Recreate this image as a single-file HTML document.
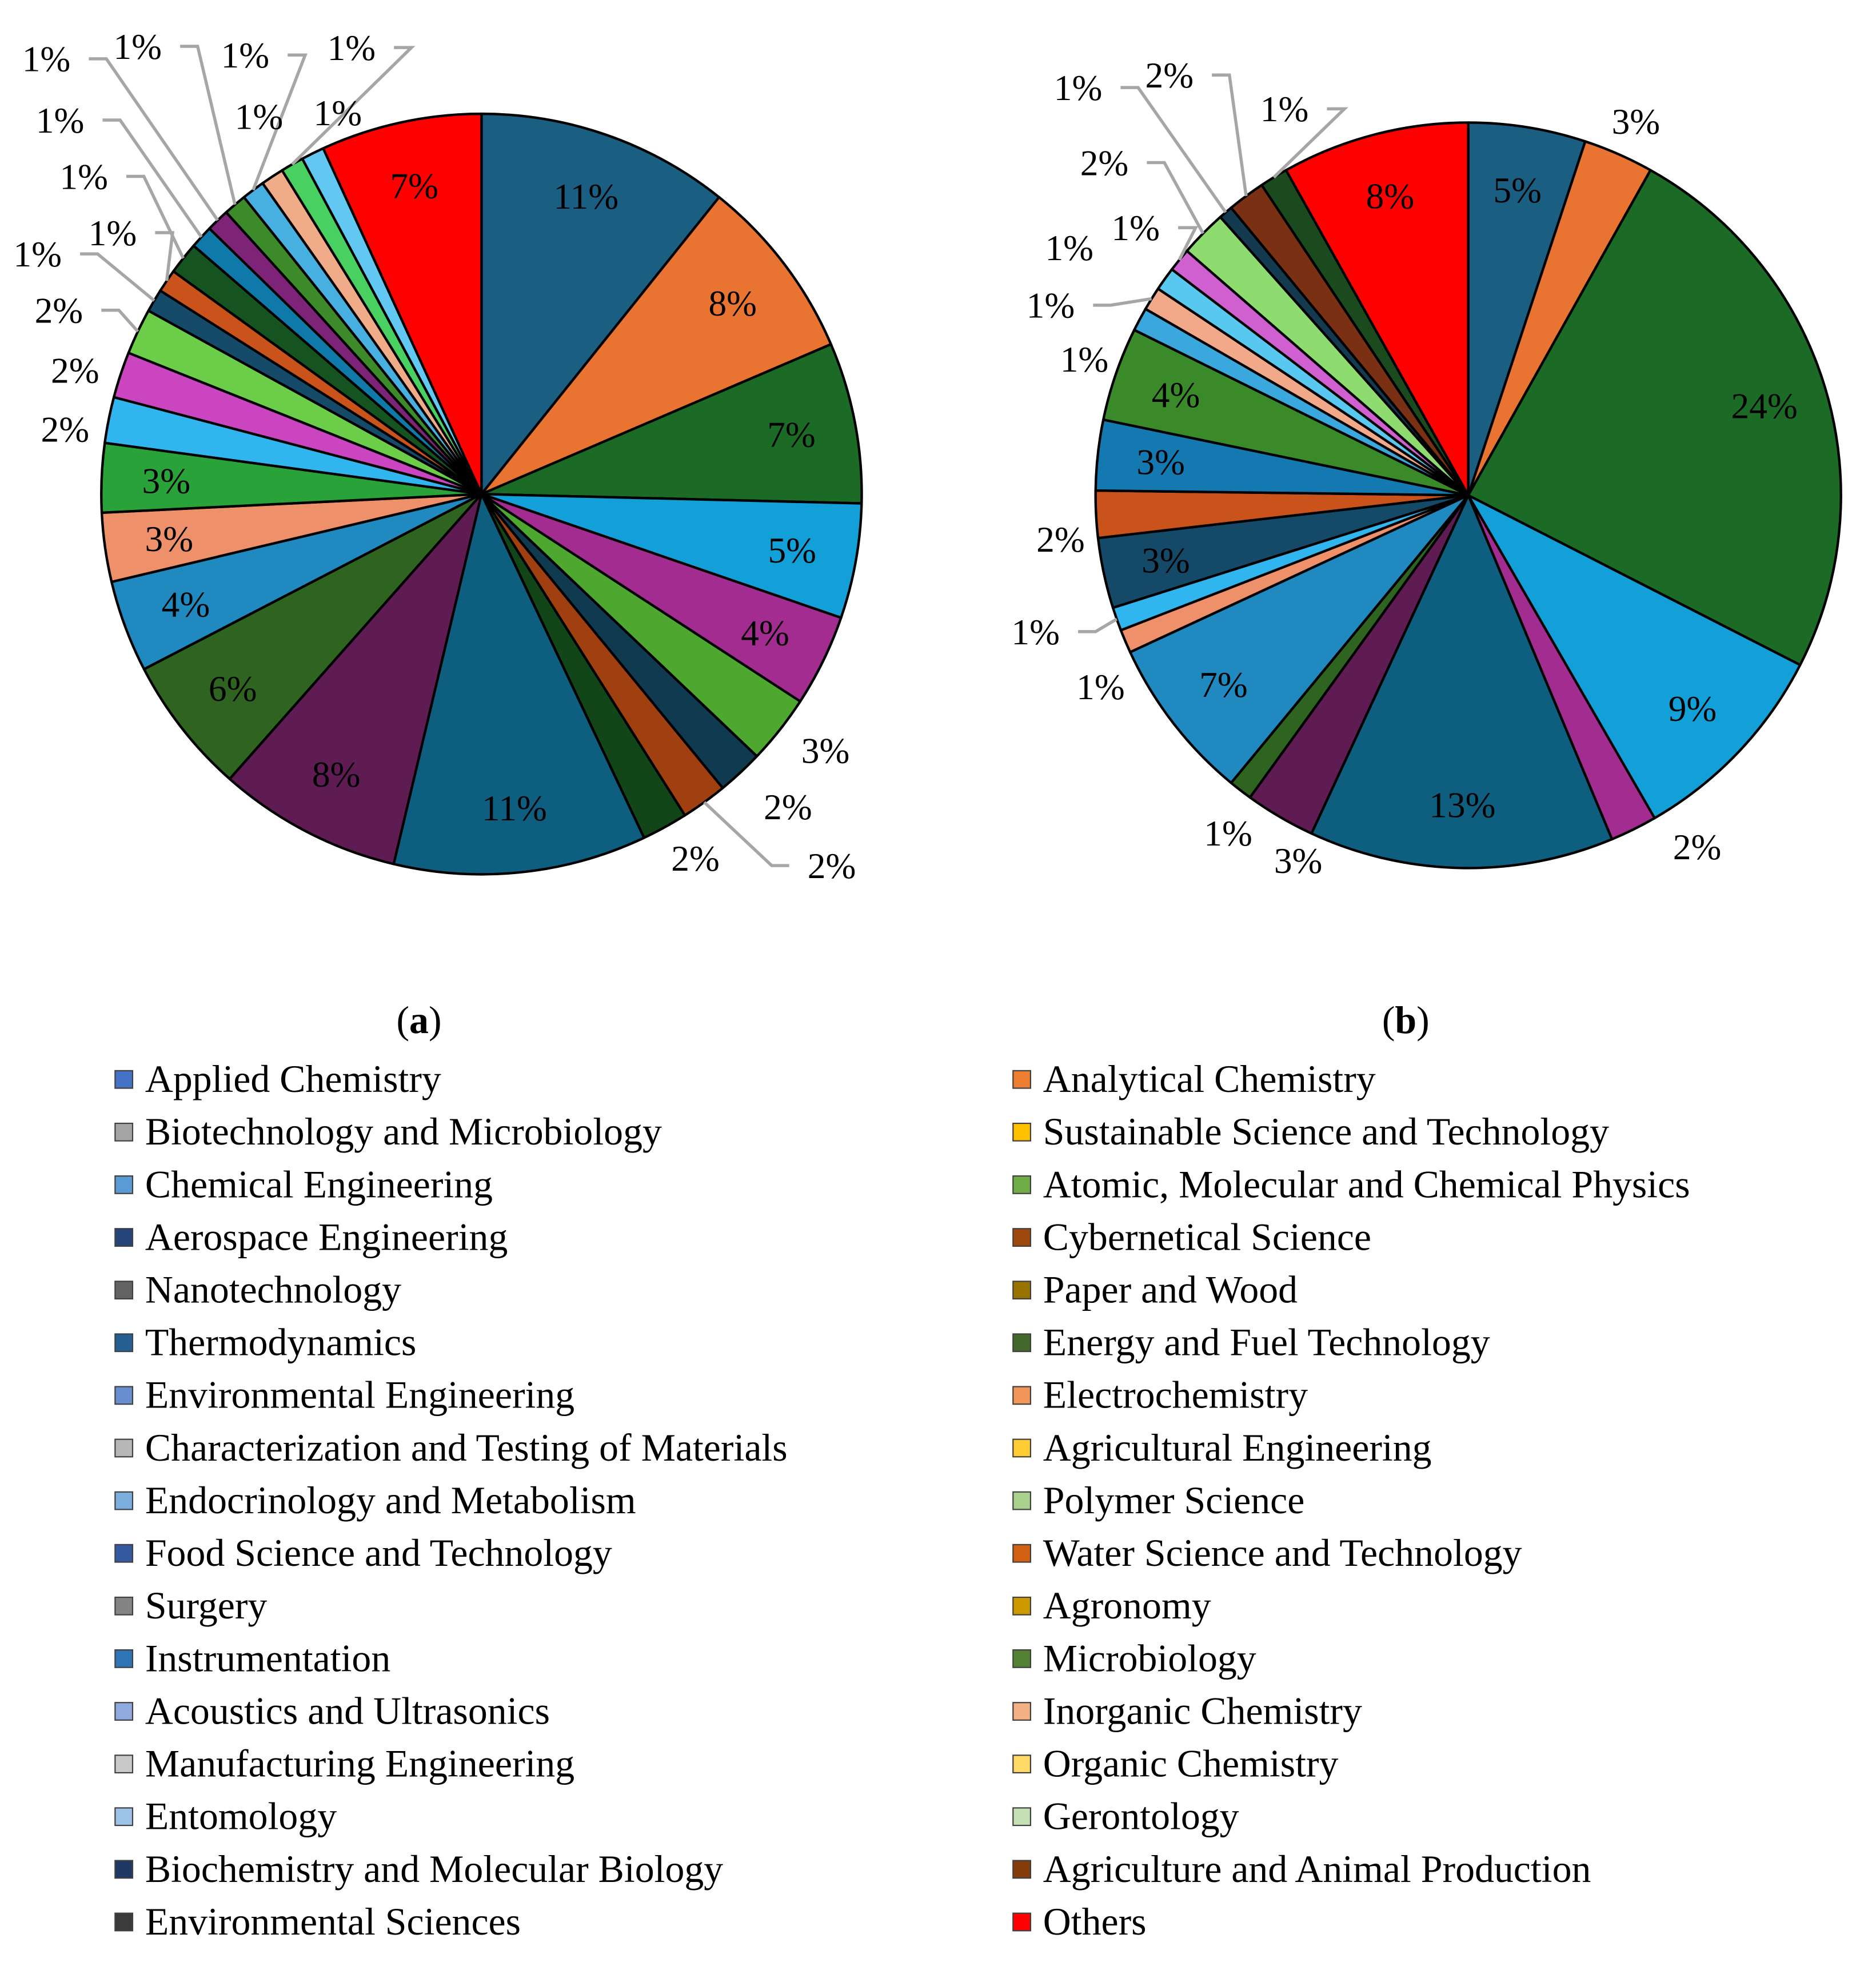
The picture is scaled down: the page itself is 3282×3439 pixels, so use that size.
<!DOCTYPE html>
<html><head><meta charset="utf-8"><style>
html,body{margin:0;padding:0;background:#fff;}
svg{display:block;}
text{font-family:"Liberation Serif","Times New Roman",serif;fill:#000;}
</style></head><body>
<svg id="chart" width="3282" height="3439" viewBox="0 0 1500 1571.8" xmlns="http://www.w3.org/2000/svg" font-family="Liberation Serif, serif">
<g id="pieA"></g>
<g id="pieB"></g>
<text x="335" y="826" font-size="31" text-anchor="middle" font-family="Liberation Serif, serif">(<tspan font-weight="bold">a</tspan>)</text>
<text x="1124" y="826" font-size="31" text-anchor="middle" font-family="Liberation Serif, serif">(<tspan font-weight="bold">b</tspan>)</text>
<g id="legend"></g>
</svg>
<script>
const valuesA = [11,8,7,5,4,3,2,2,2,11,8,6,4,3,3,2,2,2,1,1,1.4,1,1,1,1,1,1,1,7];
const colorsA = ['#1a5e82','#e97432','#1b6b27','#139fd8','#a22c8f','#4ea72e','#0f3a50','#a04011','#124518','#0e5e80','#5e1c52','#2e6420','#2089c0','#ee9069','#2aa23a','#31b5ee','#cc45c0','#6cce48','#154a68','#c9531b','#155420','#0f7aaa','#7e2478','#3c8a2a','#48b0e0','#f0ab88','#48d060','#62c8f2','#ff0000'];
const labelsA = ['11%','8%','7%','5%','4%','3%','2%','2%','2%','11%','8%','6%','4%','3%','3%','2%','2%','2%','1%','1%','1%','1%','1%','1%','1%','1%','1%','1%','7%'];
const valuesB = [5,3,24,9,2,13,3,1,7,1,1,3,2,3,4,1,1,1,1,2,0.6,1.6,1.2,8];
const colorsB = ['#1a5e82','#e97432','#1b6b27','#139fd8','#a22c8f','#0e5e80','#5e1c52','#2e6420','#2089c0','#ee9069','#31b5ee','#144a68','#c9531b','#1479b0','#3b8a2a','#3aa8dc','#f2a98a','#58c8f0','#d060d0','#8edc70','#143a50','#7a3012','#1b4a1e','#ff0000'];
const labelsB = ['5%','3%','24%','9%','2%','13%','3%','1%','7%','1%','1%','3%','2%','3%','4%','1%','1%','1%','1%','2%','1%','2%','1%','8%'];
// label layout (positions in viewBox units; third value: 0 none, 1 leader stub right, -1 leader stub left)
const layoutA = [null,null,null,null,null,[660,600,0],[630,645,0],[665,692,-1],[556,686,0],null,null,null,null,null,null,[52,343,0],[60,296,0],[47,248,1],[30,203,1],[90,186,1],[67,141,1],[48,96,1],[37,47,1],[110,37,1],[196,44,1],[207,93,0],[281,38,1],[270,90,0],null];
const layoutB = [null,[1308,97,0],null,null,[1357,677,0],null,[1038,688,0],[982,666,0],null,[880,549,0],[828,505,1],null,[848,431,0],null,null,[867,287,0],[840,244,1],[855,198,0],[908,182,1],[883,130,1],[862,70,1],[935,60,1],[1027,87,1],null];
const legendLeft = [['Applied Chemistry','#4472c4'],['Biotechnology and Microbiology','#a5a5a5'],['Chemical Engineering','#5b9bd5'],['Aerospace Engineering','#264478'],['Nanotechnology','#636363'],['Thermodynamics','#255e91'],['Environmental Engineering','#698ed0'],['Characterization and Testing of Materials','#b7b7b7'],['Endocrinology and Metabolism','#7cafdd'],['Food Science and Technology','#335aa1'],['Surgery','#848484'],['Instrumentation','#2e75b6'],['Acoustics and Ultrasonics','#8faadc'],['Manufacturing Engineering','#c9c9c9'],['Entomology','#9dc3e6'],['Biochemistry and Molecular Biology','#203864'],['Environmental Sciences','#3b3b3b']];
const legendRight = [['Analytical Chemistry','#ed7d31'],['Sustainable Science and Technology','#ffc000'],['Atomic, Molecular and Chemical Physics','#70ad47'],['Cybernetical Science','#9e480e'],['Paper and Wood','#997300'],['Energy and Fuel Technology','#43682b'],['Electrochemistry','#f1975a'],['Agricultural Engineering','#ffcd33'],['Polymer Science','#a9d18e'],['Water Science and Technology','#d26012'],['Agronomy','#cc9a00'],['Microbiology','#548235'],['Inorganic Chemistry','#f4b183'],['Organic Chemistry','#ffd966'],['Gerontology','#c5e0b4'],['Agriculture and Animal Production','#843c0c'],['Others','#ff0000']];

const NS='http://www.w3.org/2000/svg';
function mk(tag,attrs,parent){const e=document.createElementNS(NS,tag);for(const k in attrs)e.setAttribute(k,attrs[k]);parent.appendChild(e);return e;}
function pt(cx,cy,r,a){return [cx+r*Math.sin(a),cy-r*Math.cos(a)];}
function drawPie(g,cx,cy,r,vals,cols,labs,layout,tag){
  const tot=vals.reduce((a,b)=>a+b,0);
  let acc=0;const lg=mk('g',{},g);
  vals.forEach((v,i)=>{
    const a0=acc/tot*2*Math.PI;acc+=v;const a1=acc/tot*2*Math.PI;
    const p0=pt(cx,cy,r,a0),p1=pt(cx,cy,r,a1);const large=(a1-a0)>Math.PI?1:0;
    const p=mk('path',{d:`M${cx},${cy}L${p0[0]},${p0[1]}A${r},${r} 0 ${large} 1 ${p1[0]},${p1[1]}Z`,fill:cols[i],stroke:'#000','stroke-width':2,'stroke-linejoin':'round'},g);
    
    
    const am=(a0+a1)/2;let lx,ly;const L=layout[i];
    if(L){lx=L[0];ly=L[1];
      if(L[2]){const e=pt(cx,cy,r,am);const d=L[2];const sx=lx+d*34;
        const ln=mk('polyline',{points:`${sx},${ly} ${sx+d*14},${ly} ${e[0]},${e[1]}`,fill:'none',stroke:'#a6a6a6','stroke-width':2.5},lg);
        
        }
    } else {const q=pt(cx,cy,r*0.83,am);lx=q[0];ly=q[1];}
    const t=mk('text',{x:lx,y:ly+10,'font-size':29,'text-anchor':'middle','font-family':'Liberation Serif, serif'},lg);
    t.textContent=labs[i];
    
    
  });
  g.appendChild(lg);
}
drawPie(document.getElementById('pieA'),385,395,304,valuesA,colorsA,labelsA,layoutA,'a');
drawPie(document.getElementById('pieB'),1174,396,298,valuesB,colorsB,labelsB,layoutB,'b');
const leg=document.getElementById('legend');
function drawLegend(items,x){
  items.forEach((it,i)=>{const y=863+i*42.1;
    const r=mk('rect',{x:x,y:y-7,width:14,height:14,fill:it[1],stroke:'#404040','stroke-width':1},leg);
    
    
    const t=mk('text',{x:x+24,y:y+10,'font-size':31,'font-family':'Liberation Serif, serif'},leg);t.textContent=it[0];
    
    
  });
}
drawLegend(legendLeft,92);
drawLegend(legendRight,810);
</script>
</body></html>
